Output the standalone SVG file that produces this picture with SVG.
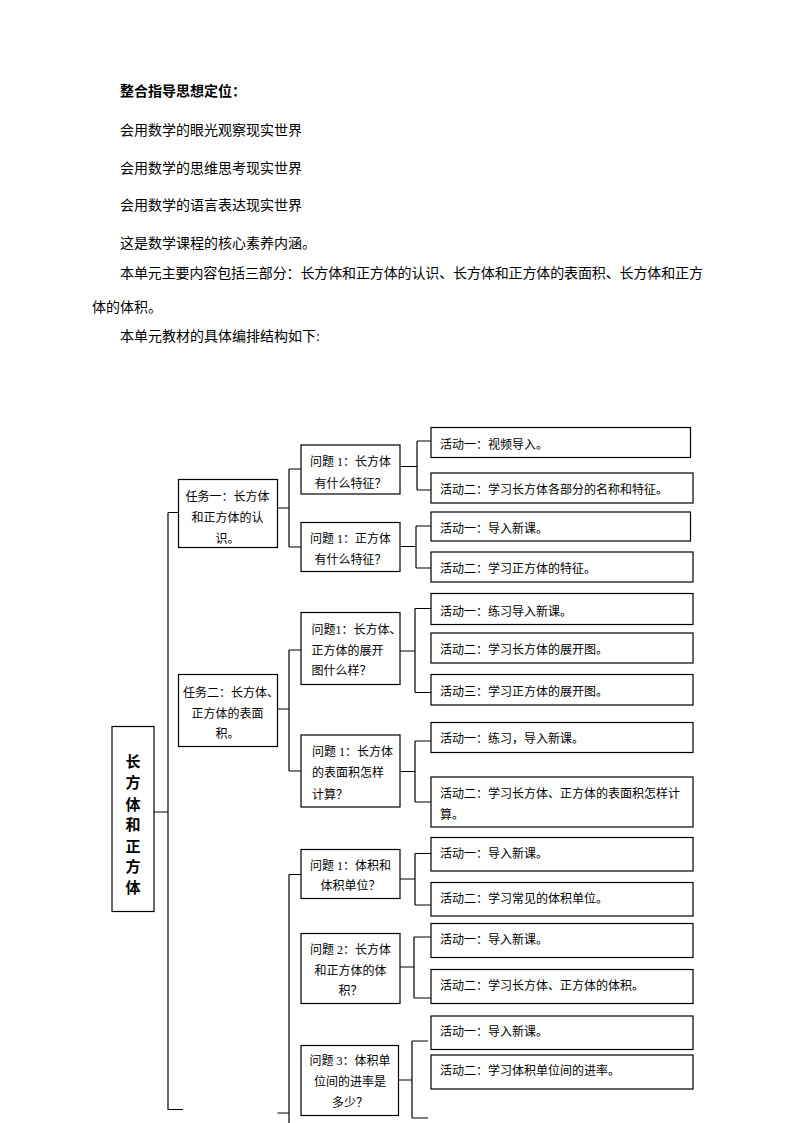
<svg xmlns="http://www.w3.org/2000/svg" width="794" height="1123" viewBox="0 0 794 1123">
<style>
text{font-family:"Liberation Serif","Noto Sans CJK SC",serif;fill:#000}
.p{font-size:14px}
.b{font-weight:bold}
.t{font-size:12px}
.m{text-anchor:middle}
.box{fill:#fff;stroke:#000;stroke-width:1.2}
.ln{fill:none;stroke:#000;stroke-width:1.2}
.root{font-size:15px;font-weight:bold;text-anchor:middle}
</style>
<rect width="794" height="1123" fill="#fff"/>
<g id="intro">
<text class="p b" x="120" y="96">整合指导思想定位：</text>
<text class="p" x="120" y="135">会用数学的眼光观察现实世界</text>
<text class="p" x="120" y="173">会用数学的思维思考现实世界</text>
<text class="p" x="120" y="210">会用数学的语言表达现实世界</text>
<text class="p" x="120" y="248">这是数学课程的核心素养内涵。</text>
<text class="p" x="120" y="278" textLength="583" lengthAdjust="spacing">本单元主要内容包括三部分：长方体和正方体的认识、长方体和正方体的表面积、长方体和正方</text>
<text class="p" x="92" y="312">体的体积。</text>
<text class="p" x="120" y="341">本单元教材的具体编排结构如下:</text>
</g>
<g id="connectors">
<path class="ln" d="M154,812H168M168,512.5V1109.5H183M168,512.5H178"/>
<path class="ln" d="M277,508H289M289,469V547M289,469H301M289,547H301"/>
<path class="ln" d="M277,709H289M289,650V771M289,650H301M289,771H301"/>
<path class="ln" d="M277.5,1113H289M289,874.5V1123M289,874.5H301"/>
<path class="ln" d="M400,466.5H417M417,441V490M417,441H431M417,490H431"/>
<path class="ln" d="M400,546.5H416M416,526V568M416,526H431M416,568H431"/>
<path class="ln" d="M400,651H415M415,608.5V692.5M415,608.5H431M415,692.5H431"/>
<path class="ln" d="M400,771.5H415M415,741V802M415,741H431M415,802H431"/>
<path class="ln" d="M400,879H415M415,853.5V905M415,853.5H431M415,905H431"/>
<path class="ln" d="M400,967H414M414,937V998M414,937H431M414,998H431"/>
<path class="ln" d="M398,1080H412M412,1041V1118M412,1041H428M412,1118H428"/>
</g>
<g id="root">
<rect class="box" x="112" y="726.5" width="42" height="185"/>
<text class="root" x="133" y="767">长</text>
<text class="root" x="133" y="788">方</text>
<text class="root" x="133" y="810">体</text>
<text class="root" x="133" y="830">和</text>
<text class="root" x="133" y="852">正</text>
<text class="root" x="133" y="872">方</text>
<text class="root" x="133" y="893">体</text>
</g>
<g id="task1">
<rect class="box" x="178.5" y="479.5" width="99" height="68"/>
<text class="t m" x="227.5" y="501">任务一：长方体</text>
<text class="t m" x="227.5" y="522">和正方体的认</text>
<text class="t m" x="227.5" y="543">识。</text>
</g>
<g id="task2">
<rect class="box" x="178.5" y="674.5" width="99" height="72"/>
<text class="t m" x="231" y="697">任务二：长方体、</text>
<text class="t m" x="227.5" y="718">正方体的表面</text>
<text class="t m" x="227.5" y="738">积。</text>
</g>
<g id="q1a">
<rect class="box" x="301" y="445" width="99" height="49"/>
<text class="t m" x="350.5" y="466">问题 1：长方体</text>
<text class="t m" x="350.5" y="488">有什么特征？</text>
</g>
<g id="q1b">
<rect class="box" x="301" y="522.5" width="99" height="49"/>
<text class="t m" x="350.5" y="543">问题 1：正方体</text>
<text class="t m" x="350.5" y="564">有什么特征？</text>
</g>
<g id="q2a">
<rect class="box" x="301" y="612.5" width="99" height="72"/>
<text class="t" x="311.5" y="634">问题1：长方体、</text>
<text class="t" x="311.5" y="655">正方体的展开</text>
<text class="t" x="311.5" y="675">图什么样？</text>
</g>
<g id="q2b">
<rect class="box" x="301" y="735" width="99" height="72"/>
<text class="t" x="312" y="756">问题 1：长方体</text>
<text class="t" x="312" y="777">的表面积怎样</text>
<text class="t" x="312" y="799">计算？</text>
</g>
<g id="q3a">
<rect class="box" x="301" y="849.5" width="99" height="49"/>
<text class="t m" x="350.5" y="870">问题 1：体积和</text>
<text class="t m" x="350.5" y="890">体积单位？</text>
</g>
<g id="q3b">
<rect class="box" x="301" y="933.5" width="99" height="70"/>
<text class="t m" x="350.5" y="954">问题 2：长方体</text>
<text class="t m" x="350.5" y="975">和正方体的体</text>
<text class="t m" x="350.5" y="995">积？</text>
</g>
<g id="q3c">
<rect class="box" x="301" y="1045.5" width="97.5" height="70"/>
<text class="t m" x="350" y="1065">问题 3：体积单</text>
<text class="t m" x="350" y="1086">位间的进率是</text>
<text class="t m" x="350" y="1107">多少？</text>
</g>
<g id="a1a">
<rect class="box" x="431" y="427.5" width="259.5" height="30"/>
<text class="t" x="440" y="449">活动一：视频导入。</text>
</g>
<g id="a1b">
<rect class="box" x="431" y="473" width="262" height="30"/>
<text class="t" x="440" y="494">活动二：学习长方体各部分的名称和特征。</text>
</g>
<g id="a2a">
<rect class="box" x="431" y="512" width="259.5" height="29"/>
<text class="t" x="440" y="532.5">活动一：导入新课。</text>
</g>
<g id="a2b">
<rect class="box" x="431" y="552" width="262" height="30"/>
<text class="t" x="440" y="572.5">活动二：学习正方体的特征。</text>
</g>
<g id="a3a">
<rect class="box" x="431" y="593.5" width="262" height="31"/>
<text class="t" x="440" y="616">活动一：练习导入新课。</text>
</g>
<g id="a3b">
<rect class="box" x="431" y="633" width="262" height="30"/>
<text class="t" x="440" y="654">活动二：学习长方体的展开图。</text>
</g>
<g id="a3c">
<rect class="box" x="431" y="674.5" width="262" height="30.5"/>
<text class="t" x="440" y="696">活动三：学习正方体的展开图。</text>
</g>
<g id="a4a">
<rect class="box" x="431" y="722.5" width="262" height="30"/>
<text class="t" x="440" y="743">活动一：练习，导入新课。</text>
</g>
<g id="a4b">
<rect class="box" x="431" y="777" width="262" height="50"/>
<text class="t" x="440" y="797.5">活动二：学习长方体、正方体的表面积怎样计</text>
<text class="t" x="440" y="818.5">算。</text>
</g>
<g id="a5a">
<rect class="box" x="431" y="837.5" width="262" height="33.5"/>
<text class="t" x="440" y="857.5">活动一：导入新课。</text>
</g>
<g id="a5b">
<rect class="box" x="431" y="882.5" width="262" height="33.5"/>
<text class="t" x="440" y="902.5">活动二：学习常见的体积单位。</text>
</g>
<g id="a6a">
<rect class="box" x="431" y="923.5" width="262" height="34"/>
<text class="t" x="440" y="944">活动一：导入新课。</text>
</g>
<g id="a6b">
<rect class="box" x="431" y="969.5" width="262" height="34"/>
<text class="t" x="440" y="990">活动二：学习长方体、正方体的体积。</text>
</g>
<g id="a7a">
<rect class="box" x="431" y="1016" width="262" height="33.5"/>
<text class="t" x="440" y="1036">活动一：导入新课。</text>
</g>
<g id="a7b">
<rect class="box" x="431" y="1055" width="262" height="34"/>
<text class="t" x="440" y="1075">活动二：学习体积单位间的进率。</text>
</g>
</svg>
